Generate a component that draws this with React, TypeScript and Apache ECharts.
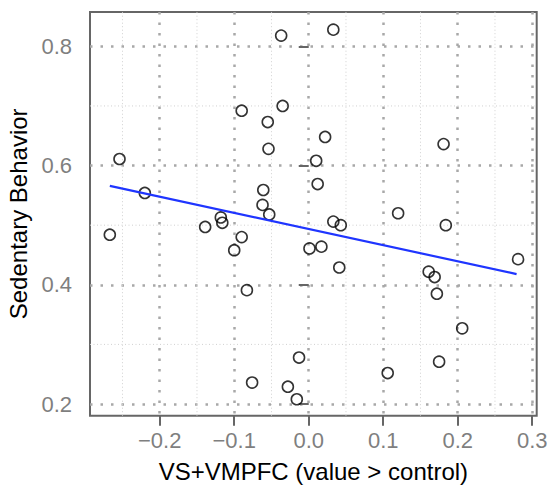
import React, { useEffect, useRef } from "react";
import * as echarts from "echarts";

const xValues = [
  -0.267, -0.254, -0.22, -0.139, -0.118, -0.116, -0.1, -0.09, -0.09, -0.083,
  -0.076, -0.055, -0.054, -0.061, -0.062, -0.053, -0.037, -0.035, -0.028, -0.016,
  -0.013, 0.001, 0.01, 0.012, 0.017, 0.022, 0.033, 0.033, 0.041, 0.043,
  0.106, 0.12, 0.161, 0.169, 0.172, 0.175, 0.181, 0.184, 0.206, 0.281,
];
const yValues = [
  0.484, 0.611, 0.554, 0.497, 0.513, 0.504, 0.458, 0.692, 0.48, 0.391,
  0.236, 0.673, 0.628, 0.559, 0.534, 0.518, 0.818, 0.7, 0.229, 0.208,
  0.278, 0.461, 0.608, 0.569, 0.464, 0.648, 0.828, 0.506, 0.429, 0.5,
  0.252, 0.52, 0.422, 0.413, 0.385, 0.271, 0.636, 0.5, 0.327, 0.443,
];
const fitX = [-0.267, 0.279];
const fitY = [0.566, 0.418];
const xTicks = [-0.2, -0.1, 0, 0.1, 0.2, 0.3];
const yTicks = [0.2, 0.4, 0.6, 0.8];
const xMinor = [-0.25, -0.15, -0.05, 0.05, 0.15, 0.25];
const yMinor = [0.3, 0.5, 0.7];
const xRange = [-0.2936, 0.306];
const yRange = [0.1804, 0.8576];

const fmt = (v: number) => v.toFixed(1).replace("-", "\u2212");

export default function App() {
  const ref = useRef<HTMLDivElement>(null);
  useEffect(() => {
    document.body.style.margin = "0";
    const chart = echarts.init(ref.current!, null, { renderer: "svg" });
    const major = { color: "#a8a8a8", width: 2.5, type: [2.5, 8] as any };
    const minor = { color: "#d0d0d0", width: 1, type: [1, 2.5] as any };
    const gridSeries = (pts: number[][], ls: any) => ({
      type: "line",
      silent: true,
      z: 1,
      symbol: "none",
      lineStyle: ls,
      data: pts,
    });
    const gridLines = [
      ...xMinor.map((v) => gridSeries([[v, yRange[0]], [v, yRange[1]]], minor)),
      ...yMinor.map((v) => gridSeries([[xRange[0], v], [xRange[1], v]], minor)),
    ];
    chart.setOption({
      animation: false,
      textStyle: { fontFamily: "Liberation Sans, Arial, sans-serif" },
      grid: {
        left: 90,
        top: 12,
        right: 19.3,
        bottom: 71.3,
        show: true,
        borderColor: "#666666",
        borderWidth: 2,
        backgroundColor: "#ffffff",
        outerBoundsMode: "none",
        containLabel: false,
      },
      xAxis: {
        type: "value",
        min: xRange[0],
        max: xRange[1],
        splitNumber: 5,
        name: "VS+VMPFC (value > control)",
        nameLocation: "middle",
        nameGap: 44,
        nameTextStyle: { fontSize: 24, color: "#000" },
        axisLine: { show: false },
        axisTick: {
          show: true,
          length: 10,
          lineStyle: { color: "#666666", width: 2 },
          customValues: xTicks,
        },
        axisLabel: {
          fontSize: 22,
          color: "#7f7f7f",
          margin: 14,
          formatter: (v: number) => fmt(v),
          customValues: xTicks,
        },
        splitLine: { show: true, lineStyle: major },
      },
      yAxis: {
        type: "value",
        min: yRange[0],
        max: yRange[1],
        splitNumber: 3,
        name: "Sedentary Behavior",
        nameLocation: "middle",
        nameGap: 54,
        nameTextStyle: { fontSize: 24, color: "#000" },
        axisLine: { show: false },
        axisTick: {
          show: true,
          length: 10,
          lineStyle: { color: "#666666", width: 2 },
          customValues: yTicks,
        },
        axisLabel: {
          fontSize: 22,
          color: "#7f7f7f",
          margin: 18,
          formatter: (v: number) => fmt(v),
          customValues: yTicks,
        },
        splitLine: { show: true, lineStyle: major },
      },
      series: [
        ...gridLines,
        {
          type: "scatter",
          z: 3,
          symbol: "circle",
          symbolSize: 11,
          itemStyle: { color: "transparent", borderColor: "#000", borderWidth: 1.6 },
          data: xValues.map((x, i) => [x, yValues[i]]),
        },
        {
          type: "line",
          z: 4,
          symbol: "none",
          lineStyle: { color: "#1f35ff", width: 2.2 },
          data: fitX.map((x, i) => [x, fitY[i]]),
        },
      ],
    });
    return () => chart.dispose();
  }, []);
  return <div ref={ref} style={{ width: 556, height: 487 }} />;
}
